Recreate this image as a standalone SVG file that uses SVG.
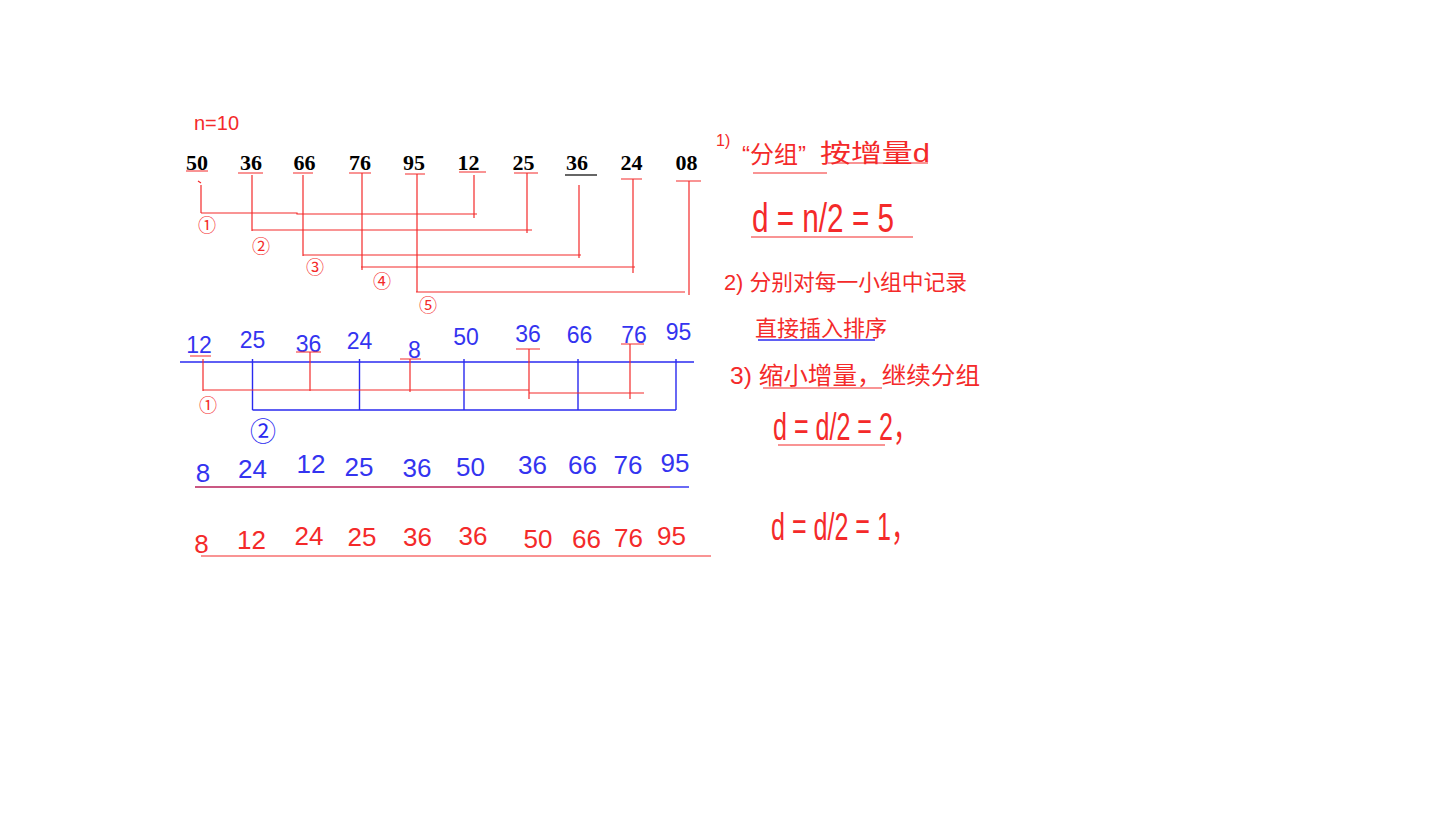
<svg xmlns="http://www.w3.org/2000/svg" width="1440" height="818" viewBox="0 0 1440 818">
<style>
.bg{fill:#ffffff}
.top{font-family:"Liberation Serif",serif;font-weight:bold;font-size:22px;fill:#000;text-anchor:middle}
.hb{font-family:"Liberation Sans",sans-serif;font-size:23px;fill:#3434f0;text-anchor:middle}
.hb3{font-family:"Liberation Sans",sans-serif;font-size:26px;fill:#3434f0;text-anchor:middle}
.hr{font-family:"Liberation Sans",sans-serif;font-size:26px;fill:#f42a2a;text-anchor:middle}
.note{font-family:"Liberation Sans","Noto Sans CJK SC",sans-serif;fill:#f42a2a}
.circ{font-family:"Noto Sans CJK SC",sans-serif;font-size:18px;fill:#f42a2a;text-anchor:middle}
.r{stroke:#f42a2a;stroke-width:1.2;fill:none}
.b{stroke:#2a2af0;stroke-width:1.4;fill:none}
.k{stroke:#000;stroke-width:1.2;fill:none}
</style>
<rect class="bg" x="0" y="0" width="1440" height="818"/>

<g id="label-n">
<text class="note" x="194" y="130" font-size="20">n=10</text>
</g>

<g id="row1">
<text class="top" x="197" y="170">50</text>
<text class="top" x="251" y="170">36</text>
<text class="top" x="304.5" y="170">66</text>
<text class="top" x="360" y="170">76</text>
<text class="top" x="414" y="170">95</text>
<text class="top" x="468.5" y="170">12</text>
<text class="top" x="523.5" y="170">25</text>
<text class="top" x="577" y="170">36</text>
<text class="top" x="631.5" y="170">24</text>
<text class="top" x="686.5" y="170">08</text>
</g>

<g id="row2">
<text class="hb" x="199" y="353">12</text>
<text class="hb" x="252.5" y="348">25</text>
<text class="hb" x="308.5" y="352">36</text>
<text class="hb" x="359.5" y="349">24</text>
<text class="hb" x="414.5" y="358">8</text>
<text class="hb" x="466" y="345">50</text>
<text class="hb" x="528" y="342">36</text>
<text class="hb" x="579.5" y="343">66</text>
<text class="hb" x="634" y="343">76</text>
<text class="hb" x="678.5" y="340">95</text>
</g>

<g id="row3">
<text class="hb3" x="203" y="482">8</text>
<text class="hb3" x="252.5" y="478">24</text>
<text class="hb3" x="311" y="473">12</text>
<text class="hb3" x="359" y="476">25</text>
<text class="hb3" x="417" y="477">36</text>
<text class="hb3" x="470.5" y="476">50</text>
<text class="hb3" x="532.5" y="474">36</text>
<text class="hb3" x="582.5" y="474">66</text>
<text class="hb3" x="628" y="474">76</text>
<text class="hb3" x="675" y="472">95</text>
</g>

<g id="row4">
<text class="hr" x="201.5" y="553">8</text>
<text class="hr" x="251.5" y="549">12</text>
<text class="hr" x="309" y="545">24</text>
<text class="hr" x="362" y="546">25</text>
<text class="hr" x="417.5" y="546">36</text>
<text class="hr" x="473" y="545">36</text>
<text class="hr" x="538" y="548">50</text>
<text class="hr" x="586.5" y="548">66</text>
<text class="hr" x="628.5" y="547">76</text>
<text class="hr" x="671.5" y="545">95</text>
</g>

<g id="group-labels">
<text class="circ" x="207" y="232">①</text>
<text class="circ" x="261" y="253">②</text>
<text class="circ" x="315" y="274">③</text>
<text class="circ" x="382" y="288">④</text>
<text class="circ" x="428" y="312">⑤</text>
<text class="circ" x="208" y="412">①</text>
<text class="circ" x="263" y="441" style="fill:#2a2af0;font-size:26px">②</text>
</g>

<g id="notes">
<text class="note" x="716" y="146" font-size="16">1)</text>
<text class="note" x="742" y="163" font-size="24">“分组”</text>
<text class="note" x="820" y="162" font-size="25" textLength="110" lengthAdjust="spacingAndGlyphs">按增量d</text>
<text class="note" x="752" y="232" font-size="40" textLength="142" lengthAdjust="spacingAndGlyphs">d = n/2 = 5</text>
<text class="note" x="724" y="290" font-size="22" textLength="243" lengthAdjust="spacingAndGlyphs">2) 分别对每一小组中记录</text>
<text class="note" x="755" y="336" font-size="22">直接插入排序</text>
<text class="note" x="730" y="384" font-size="24" textLength="250" lengthAdjust="spacingAndGlyphs">3) 缩小增量，继续分组</text>
<text class="note" x="773" y="440" font-size="38" textLength="145" lengthAdjust="spacingAndGlyphs">d = d/2 = 2，</text>
<text class="note" x="771" y="540" font-size="38" textLength="145" lengthAdjust="spacingAndGlyphs">d = d/2 = 1，</text>
</g>

<g id="connectors">
<path class="r" d="M186 171H208 M238 173H263 M293 173H313 M349 173H371 M405 174H425 M459 172H486 M514 173H538 M621 179H642 M676 181H701"/>
<path class="k" d="M565 175H597"/>
<path class="r" d="M198 181L201 183 M201 185V213 M201 213H297 L297 214H477 M474 175V218"/>
<path class="r" d="M252 175V231 M252 230H532 M527 173V233"/>
<path class="r" d="M303 175V256 M303 255H581 M579 185V258"/>
<path class="r" d="M362 173V270 M361 267H635 M633 179V273"/>
<path class="r" d="M417 174V292 M416 292H685 M689 181V295"/>

<path class="b" d="M180 362H694"/>
<path class="b" d="M252.5 359V410 M359.5 359V410 M464 359V410 M578 359V410 M676 359V410 M252.5 410H676"/>
<path class="r" d="M190 356H211 M296 352H321 M400 359H421 M516 349H540 M621 344H644"/>
<path class="r" d="M203 359V391 M310 352V391 M410 359V392 M529 349V399 M630 344V399"/>
<path class="r" d="M203 390H410 M410 390H529 M529 393H644"/>

<path d="M195 487H670" stroke="#b8205a" stroke-width="1.6" fill="none"/>
<path class="b" d="M670 487H689"/>
<path class="r" d="M201 556H711"/>

<path class="r" d="M753 173H827 M828 163H928 M751 237H913 M763 388H882 M778 445H885"/>
<path class="b" d="M758 340H875"/>
</g>
</svg>
